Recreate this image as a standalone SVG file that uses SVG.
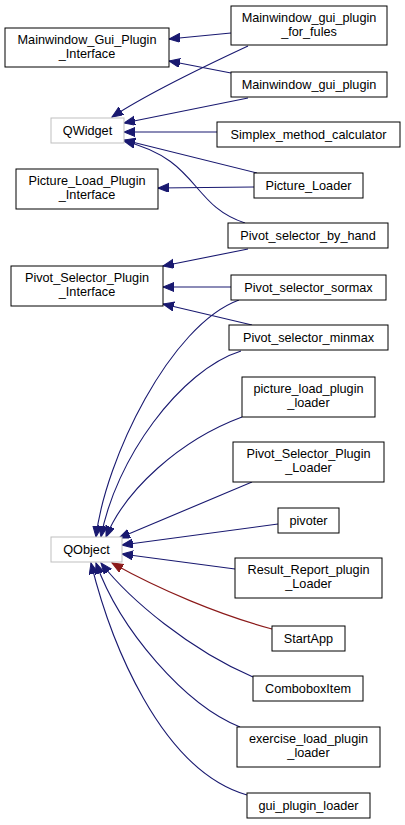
<svg xmlns="http://www.w3.org/2000/svg" width="405" height="825" viewBox="0 0 405 825">
<style>
.n rect{fill:#fff;stroke:#000;stroke-width:1}
.g rect{stroke:#bfbfbf}
text{font-family:"Liberation Sans",Arial,sans-serif;font-size:12.7px;text-anchor:middle;fill:#000}
.e path{fill:none;stroke:#191970;stroke-width:1.1}
.e path.r{stroke:#8b1a1a}
</style>
<defs>
<marker id="a" markerUnits="userSpaceOnUse" markerWidth="12" markerHeight="10" refX="11" refY="4.5" orient="auto"><path d="M0,0 L11,4.5 L0,9 z" fill="#191970" stroke="#191970"/></marker>
<marker id="ar" markerUnits="userSpaceOnUse" markerWidth="12" markerHeight="10" refX="11" refY="4.5" orient="auto"><path d="M0,0 L11,4.5 L0,9 z" fill="#8b1a1a" stroke="#8b1a1a"/></marker>
</defs>
<rect width="405" height="825" fill="#fff"/>
<g class="e" id="edges">
<path marker-end="url(#a)" d="M231,33 L169,39"/>
<path marker-end="url(#a)" d="M231,73 L169,61"/>
<path marker-end="url(#a)" d="M248,46 C205,66 150,92 112,117"/>
<path marker-end="url(#a)" d="M248,98 L124,123"/>
<path marker-end="url(#a)" d="M217,132 L124,132"/>
<path marker-end="url(#a)" d="M257,173 L124,140"/>
<path marker-end="url(#a)" d="M245,223 C190,205 200,160 124,141"/>
<path marker-end="url(#a)" d="M254,187 L158,188"/>
<path marker-end="url(#a)" d="M248,249 L163,266"/>
<path marker-end="url(#a)" d="M231,287 L163,287"/>
<path marker-end="url(#a)" d="M252,325 L163,304"/>
<path marker-end="url(#a)" d="M239,300 C170,325 105,460 96,537"/>
<path marker-end="url(#a)" d="M241,351 C180,370 115,460 101,537"/>
<path marker-end="url(#a)" d="M242,417 C180,440 125,490 106,537"/>
<path marker-end="url(#a)" d="M252,482 L119,538"/>
<path marker-end="url(#a)" d="M278,524 L122,545"/>
<path marker-end="url(#a)" d="M235,569 L122,554"/>
<path class="r" marker-end="url(#ar)" d="M272,629 C220,615 160,590 112,563"/>
<path marker-end="url(#a)" d="M253,677 C190,650 130,600 101,563"/>
<path marker-end="url(#a)" d="M240,727 C185,705 120,630 96,563"/>
<path marker-end="url(#a)" d="M247,795 C160,770 110,640 91,563"/>
</g>
<g class="n" id="Mainwindow_Gui_Plugin_Interface"><rect x="5" y="28" width="164" height="39"/><text x="87" y="43.5">Mainwindow_Gui_Plugin</text><text x="87" y="57.5">_Interface</text></g>
<g class="n" id="Mainwindow_gui_plugin_for_fules"><rect x="231" y="6" width="156" height="39"/><text x="309" y="21.5">Mainwindow_gui_plugin</text><text x="309" y="35.5">_for_fules</text></g>
<g class="n" id="Mainwindow_gui_plugin"><rect x="231" y="72" width="156" height="25"/><text x="309" y="88.5">Mainwindow_gui_plugin</text></g>
<g class="n g" id="QWidget"><rect x="51" y="118" width="73" height="25"/><text x="87.5" y="134.5">QWidget</text></g>
<g class="n" id="Simplex_method_calculator"><rect x="217" y="122" width="183" height="25"/><text x="308.5" y="138.5">Simplex_method_calculator</text></g>
<g class="n" id="Picture_Load_Plugin_Interface"><rect x="16" y="169" width="142" height="40"/><text x="87" y="184.5">Picture_Load_Plugin</text><text x="87" y="198.5">_Interface</text></g>
<g class="n" id="Picture_Loader"><rect x="254" y="173" width="109" height="25"/><text x="308.5" y="189.5">Picture_Loader</text></g>
<g class="n" id="Pivot_selector_by_hand"><rect x="228" y="223" width="160" height="25"/><text x="308" y="239.5">Pivot_selector_by_hand</text></g>
<g class="n" id="Pivot_Selector_Plugin_Interface"><rect x="11" y="266" width="152" height="40"/><text x="87" y="281.5">Pivot_Selector_Plugin</text><text x="87" y="295.5">_Interface</text></g>
<g class="n" id="Pivot_selector_sormax"><rect x="231" y="275" width="155" height="25"/><text x="308.5" y="291.5">Pivot_selector_sormax</text></g>
<g class="n" id="Pivot_selector_minmax"><rect x="229" y="325" width="159" height="25"/><text x="308.5" y="341.5">Pivot_selector_minmax</text></g>
<g class="n" id="picture_load_plugin_loader"><rect x="242" y="377" width="133" height="40"/><text x="308.5" y="392.5">picture_load_plugin</text><text x="308.5" y="406.5">_loader</text></g>
<g class="n" id="Pivot_Selector_Plugin_Loader"><rect x="233" y="442" width="151" height="40"/><text x="308.5" y="457.5">Pivot_Selector_Plugin</text><text x="308.5" y="471.5">_Loader</text></g>
<g class="n" id="pivoter"><rect x="278" y="508" width="61" height="25"/><text x="308.5" y="524.5">pivoter</text></g>
<g class="n g" id="QObject"><rect x="51" y="537" width="71" height="25"/><text x="86.5" y="553.5">QObject</text></g>
<g class="n" id="Result_Report_plugin_Loader"><rect x="235" y="558" width="147" height="40"/><text x="308.5" y="573.5">Result_Report_plugin</text><text x="308.5" y="587.5">_Loader</text></g>
<g class="n" id="StartApp"><rect x="272" y="626" width="73" height="25"/><text x="308.5" y="642.5">StartApp</text></g>
<g class="n" id="ComboboxItem"><rect x="253" y="676" width="110" height="25"/><text x="308" y="692.5">ComboboxItem</text></g>
<g class="n" id="exercise_load_plugin_loader"><rect x="237" y="727" width="143" height="40"/><text x="308.5" y="742.5">exercise_load_plugin</text><text x="308.5" y="756.5">_loader</text></g>
<g class="n" id="gui_plugin_loader"><rect x="247" y="793" width="123" height="25"/><text x="308.5" y="809.5">gui_plugin_loader</text></g>
</svg>
